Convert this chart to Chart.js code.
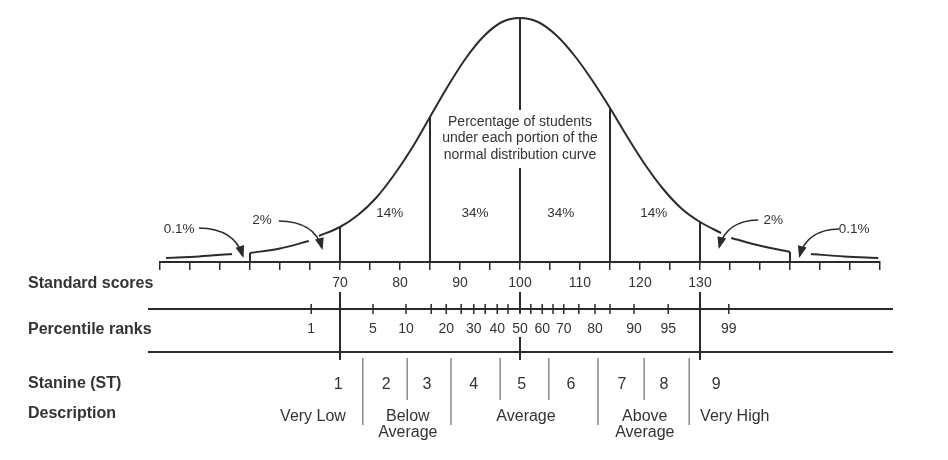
<!DOCTYPE html>
<html>
<head>
<meta charset="utf-8">
<script src="https://cdn.jsdelivr.net/npm/chart.js@4/dist/chart.umd.min.js"></script>
<style>
  html, body { margin: 0; padding: 0; background: #fff; }
</style>
</head>
<body>
<canvas id="chart" width="948" height="460"></canvas>
<script>
// ====== Curve (standard score -> height above baseline) ======
const tailLeftScores   = [41, 46.5, 52];
const tailLeftHeights  = [4, 5.5, 8];
const lowLeftScores    = [55, 60, 64.8];
const lowLeftHeights   = [9, 13.5, 21];
const mainScores  = [66.5, 70, 73, 76, 79, 82, 85, 88, 91, 94, 97, 100, 103, 106, 109, 112, 115, 118, 121, 124, 127, 130, 133.5];
const mainHeights = [26, 35, 47, 64, 87, 114, 145, 176, 204, 226, 240, 244, 240, 227, 207, 182, 154, 124, 96, 72, 53, 40, 29];
const lowRightScores   = [135.2, 140.2, 145];
const lowRightHeights  = [24, 16, 10];
const tailRightScores  = [148.5, 154, 159.7];
const tailRightHeights = [8, 5.5, 4];

// ====== Section dividers under the curve ======
const dividerScores  = [55, 70, 85, 115, 130, 145];
const dividerHeights = [9, 35, 145, 154, 40, 10];
const meanScore = 100;
const meanHeight = 244;

// ====== Percentages ======
const pctLabels  = ['14%', '34%', '34%', '14%'];
const pctScores  = [78.3, 92.5, 106.8, 122.3];
const pctHeight  = 49;
const tailPctLabels = ['0.1%', '2%', '2%', '0.1%'];
const tailPctScores = [43.2, 57, 142.2, 155.7];
const tailPctHeights = [33, 42, 42, 33];

// ====== Standard scores axis ======
const stdMin = 40, stdMax = 160, stdStep = 5;
const stdLabels = [70, 80, 90, 100, 110, 120, 130];

// ====== Percentile ranks (position read in standard score units) ======
const pctRankTicks  = [65.2, 75.5, 81, 85.2, 87.7, 90.2, 92.3, 94.2, 96.2, 98, 100, 101.8, 103.7, 105.5, 107.3, 109.8, 112.5, 115, 119, 124.7, 134.8];
const pctRankValues = [1, 5, 10, 15, 20, 25, 30, 35, 40, 45, 50, 55, 60, 65, 70, 75, 80, 85, 90, 95, 99];
const pctRankShown  = [1, 5, 10, 20, 30, 40, 50, 60, 70, 80, 90, 95, 99];

// ====== Stanines ======
const stanineBounds = [73.8, 81.2, 88.5, 96.7, 104.8, 113, 120.7, 128.2];
const stanineMajor  = [true, false, true, false, false, true, false, true];
const stanineNums   = ['1', '2', '3', '4', '5', '6', '7', '8', '9'];
const stanineAt     = [69.7, 77.7, 84.5, 92.3, 100.3, 108.5, 117, 124, 132.7];
const descLabels    = [['Very Low'], ['Below', 'Average'], ['Average'], ['Above', 'Average'], ['Very High']];
const descAt        = [65.5, 81.3, 101, 120.8, 135.8];

const rowLabels = ['Standard scores', 'Percentile ranks', 'Stanine (ST)', 'Description'];
const curveNote = ['Percentage of students', 'under each portion of the', 'normal distribution curve'];

// ====== Helpers ======
const INK = '#2b2b2b';
const SANS = '"Liberation Sans", Arial, sans-serif';

function pts(xs, ys) { return xs.map((v, i) => ({ x: v, y: ys[i] })); }

function lineSet(data, width) {
  return {
    data: data,
    showLine: true,
    borderColor: INK,
    borderWidth: width || 2,
    pointRadius: 0,
    cubicInterpolationMode: 'monotone',
    clip: false
  };
}

const datasets = [
  lineSet(pts(tailLeftScores, tailLeftHeights)),
  lineSet(pts(lowLeftScores, lowLeftHeights)),
  lineSet(pts(mainScores, mainHeights)),
  lineSet(pts(lowRightScores, lowRightHeights)),
  lineSet(pts(tailRightScores, tailRightHeights))
];
dividerScores.forEach((s, i) => {
  datasets.push(lineSet([{ x: s, y: 0 }, { x: s, y: dividerHeights[i] }]));
});
// mean line, broken around the note text
datasets.push(lineSet([{ x: meanScore, y: 0 }, { x: meanScore, y: 94 }]));
datasets.push(lineSet([{ x: meanScore, y: 152 }, { x: meanScore, y: meanHeight }]));

// ====== Arrow helper ======
function arrow(ctx, x0, y0, cx, cy, x1, y1) {
  ctx.beginPath();
  ctx.moveTo(x0, y0);
  ctx.quadraticCurveTo(cx, cy, x1, y1);
  ctx.stroke();
  const a = Math.atan2(y1 - cy, x1 - cx);
  const L = 10, W = 4.5;
  ctx.beginPath();
  ctx.moveTo(x1 + Math.cos(a) * 2, y1 + Math.sin(a) * 2);
  ctx.lineTo(x1 - Math.cos(a) * L + Math.sin(a) * W, y1 - Math.sin(a) * L - Math.cos(a) * W);
  ctx.lineTo(x1 - Math.cos(a) * L - Math.sin(a) * W, y1 - Math.sin(a) * L + Math.cos(a) * W);
  ctx.closePath();
  ctx.fill();
}

// ====== Everything under / around the curve ======
const overlay = {
  id: 'overlay',
  afterDraw(chart) {
    const ctx = chart.ctx;
    const xs = chart.scales.x, ys = chart.scales.y;
    const X = v => xs.getPixelForValue(v);
    const Y = v => ys.getPixelForValue(v);
    const left = chart.chartArea.left, right = chart.chartArea.right;
    ctx.save();
    ctx.strokeStyle = INK;
    ctx.fillStyle = INK;
    ctx.lineCap = 'butt';

    // note inside the curve
    ctx.font = '14px ' + SANS;
    ctx.textAlign = 'center';
    ctx.textBaseline = 'middle';
    ctx.fillStyle = '#333';
    curveNote.forEach((t, i) => ctx.fillText(t, X(meanScore), 122 + i * 16.5));

    // section percentages
    ctx.font = '13.5px ' + SANS;
    pctLabels.forEach((t, i) => ctx.fillText(t, X(pctScores[i]), Y(pctHeight)));

    // tail labels + arrows
    tailPctLabels.forEach((t, i) => ctx.fillText(t, X(tailPctScores[i]), Y(tailPctHeights[i])));
    ctx.lineWidth = 1.6;
    ctx.fillStyle = INK;
    arrow(ctx, X(46.5), Y(34), X(52.4), Y(33.5), X(53.8), Y(6));
    arrow(ctx, X(59.8), Y(41), X(65.8), Y(40.5), X(67), Y(14));
    arrow(ctx, X(139.7), Y(42), X(134.4), Y(41.5), X(133.2), Y(15));
    arrow(ctx, X(153.2), Y(33), X(147.8), Y(32.5), X(146.6), Y(6));

    // row labels
    ctx.fillStyle = '#333';
    ctx.font = 'bold 16px ' + SANS;
    ctx.textAlign = 'left';
    const rowY = [284, 330, 384, 414];
    rowLabels.forEach((t, i) => ctx.fillText(t, 28, rowY[i]));

    // percentile ranks band
    ctx.lineWidth = 2;
    ctx.strokeStyle = INK;
    [309, 352].forEach(yy => {
      ctx.beginPath(); ctx.moveTo(left - 12, yy); ctx.lineTo(right + 13, yy); ctx.stroke();
    });
    ctx.lineWidth = 1.5;
    pctRankTicks.forEach(s => {
      ctx.beginPath(); ctx.moveTo(X(s), 304); ctx.lineTo(X(s), 314); ctx.stroke();
    });
    ctx.font = '14px ' + SANS;
    ctx.textAlign = 'center';
    pctRankValues.forEach((p, i) => {
      if (pctRankShown.includes(p)) ctx.fillText(String(p), X(pctRankTicks[i]), 329);
    });

    // -2, 0, +2 SD lines through the lower rows
    ctx.lineWidth = 2;
    [[70, 292, 360], [130, 292, 360], [100, 292, 313], [100, 337, 360]].forEach(([s, a, b]) => {
      ctx.beginPath(); ctx.moveTo(X(s), a); ctx.lineTo(X(s), b); ctx.stroke();
    });

    // stanine dividers
    ctx.strokeStyle = '#8a8a8a';
    ctx.lineWidth = 1.5;
    stanineBounds.forEach((s, i) => {
      ctx.beginPath(); ctx.moveTo(X(s), 358); ctx.lineTo(X(s), stanineMajor[i] ? 425 : 400); ctx.stroke();
    });

    // stanine numbers + descriptions
    ctx.fillStyle = '#333';
    ctx.font = '16px ' + SANS;
    stanineNums.forEach((t, i) => ctx.fillText(t, X(stanineAt[i]), 385));
    descLabels.forEach((lines, i) => {
      lines.forEach((t, j) => ctx.fillText(t, X(descAt[i]), 417 + j * 16));
    });
    ctx.restore();
  }
};

new Chart(document.getElementById('chart'), {
  type: 'scatter',
  data: { datasets: datasets },
  options: {
    responsive: false,
    animation: false,
    devicePixelRatio: 1,
    layout: { padding: { left: 160, right: 68, top: 18, bottom: 0 } },
    plugins: { legend: { display: false }, tooltip: { enabled: false } },
    scales: {
      x: {
        type: 'linear',
        min: stdMin,
        max: stdMax,
        afterFit: (scale) => { scale.height = 198; },
        border: { display: true, color: INK, width: 2 },
        grid: { drawOnChartArea: false, drawTicks: true, tickLength: 8, color: INK, lineWidth: 1.5 },
        ticks: {
          stepSize: stdStep,
          maxTicksLimit: 40,
          autoSkip: false,
          maxRotation: 0,
          padding: 5,
          color: '#333',
          font: { family: SANS, size: 14 },
          callback: (v) => stdLabels.includes(v) ? String(v) : ''
        }
      },
      y: { display: false, min: 0, max: meanHeight }
    }
  },
  plugins: [overlay]
});
</script>
</body>
</html>
